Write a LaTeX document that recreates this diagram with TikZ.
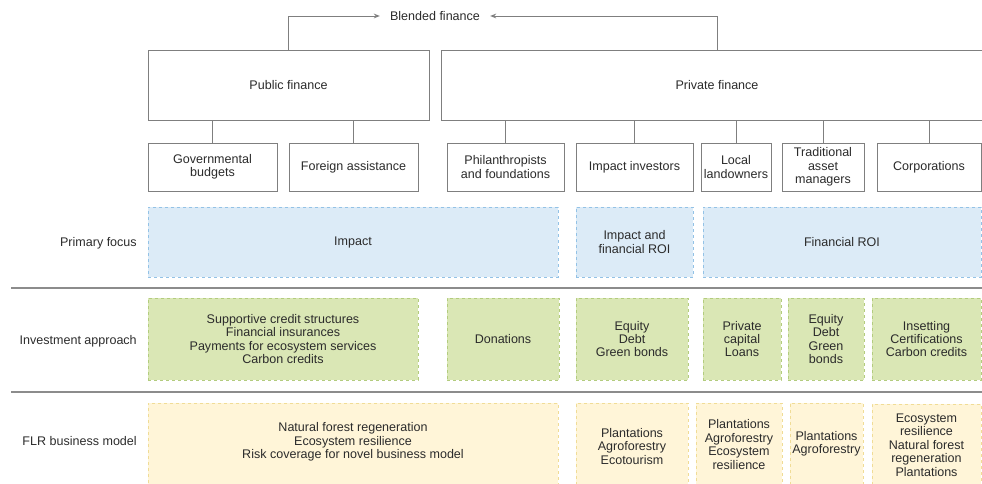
\documentclass[tikz,border=0pt]{standalone}
\usepackage{fontspec}
\setmainfont{Liberation Sans}
\usetikzlibrary{arrows.meta,calc}
\definecolor{txt}{HTML}{2B2B2B}
\definecolor{boxline}{HTML}{7F7F7F}
\definecolor{sepline}{HTML}{8C8C8C}
\definecolor{bluefill}{HTML}{DCEBF7}
\definecolor{blueline}{HTML}{93C2E6}
\definecolor{greenfill}{HTML}{DAE7B5}
\definecolor{greenline}{HTML}{B3CC7E}
\definecolor{yellowfill}{HTML}{FFF5D8}
\definecolor{yellowline}{HTML}{F0DC96}
\tikzset{
  base/.style={inner sep=0pt, align=center, text=txt, font=\fontsize{9.4}{10.1}\selectfont},
  whitebox/.style={base, draw=boxline, line width=0.75pt, fill=white},
  bluebox/.style={base, draw=blueline, fill=bluefill, line width=0.75pt, dash pattern=on 2.25pt off 2.25pt},
  greenbox/.style={base, draw=greenline, fill=greenfill, line width=0.75pt, dash pattern=on 2.25pt off 2.25pt},
  yellowbox/.style={base, draw=yellowline, fill=yellowfill, line width=0.75pt, dash pattern=on 2.25pt off 2.25pt},
  rowlabel/.style={base, anchor=east},
  link/.style={draw=boxline, line width=0.75pt},
  arr/.style={link, -{Stealth[length=4.5pt,width=3.6pt]}},
  sep/.style={draw=sepline, line width=1.5pt}
}
% \mybox{style}{name}{x1}{y1}{x2}{y2}{text}
\newcommand\mybox[7]{%
  \node[#1, minimum width={(#5-#3)*0.75pt}, minimum height={(#6-#4)*0.75pt}]
    (#2) at ({(#3+#5)/2},{(#4+#6)/2}) {#7};}
\begin{document}
\begin{tikzpicture}[x=0.75pt, y=-0.75pt]
\useasboundingbox (0,0) rectangle (982,483);
\clip (0,0) rectangle (982,483);

% top level
\mybox{whitebox}{pub}{148}{50}{429}{120}{Public finance}
\mybox{whitebox}{priv}{441}{50}{993}{120}{Private finance}
\node[base, inner xsep=7.5pt] (blend) at (435,16) {Blended finance};
\draw[arr] (pub.north) |- (blend.west);
\draw[arr] (priv.north) |- (blend.east);

% second level
\mybox{whitebox}{gov}{148}{143}{277}{191}{Governmental\\budgets}
\mybox{whitebox}{foreign}{289}{143}{418}{191}{Foreign assistance}
\mybox{whitebox}{phil}{447}{143}{564}{191}{Philanthropists\\and foundations}
\mybox{whitebox}{impinv}{576}{143}{693}{191}{Impact investors}
\mybox{whitebox}{local}{701}{143}{771}{191}{Local\\landowners}
\mybox{whitebox}{trad}{782}{143}{864}{191}{Traditional\\asset\\managers}
\mybox{whitebox}{corp}{877}{143}{981}{191}{Corporations}

\foreach \c in {gov,foreign}{\draw[link] (\c.north) -- (\c.north |- pub.south);}
\foreach \c in {phil,impinv,local,trad,corp}{\draw[link] (\c.north) -- (\c.north |- priv.south);}

% primary focus
\node[rowlabel] (lpf) at (137,243) {Primary focus};
\mybox{bluebox}{pf1}{148}{207}{558}{277}{Impact}
\mybox{bluebox}{pf2}{576}{207}{693}{277}{Impact and\\financial ROI}
\mybox{bluebox}{pf3}{703}{207}{981}{277}{Financial ROI}

% separators
\coordinate (s1a) at (11,288); \coordinate (s1b) at (984,288);
\coordinate (s2a) at (11,392); \coordinate (s2b) at (984,392);
\draw[sep] (s1a) -- (s1b);
\draw[sep] (s2a) -- (s2b);

% investment approach
\node[rowlabel] (lia) at (137,341) {Investment approach};
\mybox{greenbox}{ia1}{148}{298}{418}{380}{Supportive credit structures\\Financial insurances\\Payments for ecosystem services\\Carbon credits}
\mybox{greenbox}{ia2}{447}{298}{559}{380}{Donations}
\mybox{greenbox}{ia3}{576}{298}{688}{380}{Equity\\Debt\\Green bonds}
\mybox{greenbox}{ia4}{703}{298}{781}{380}{Private\\capital\\Loans}
\mybox{greenbox}{ia5}{788}{298}{864}{380}{Equity\\Debt\\Green\\bonds}
\mybox{greenbox}{ia6}{872}{298}{981}{380}{Insetting\\Certifications\\Carbon credits}

% FLR business model
\node[rowlabel] (lflr) at (137,441) {FLR business model};
\mybox{yellowbox}{fl1}{148}{403}{558}{490}{}
\node[base] (fl1t) at (353,442) {Natural forest regeneration\\Ecosystem resilience\\Risk coverage for novel business model};
\mybox{yellowbox}{fl2}{576}{403}{688}{490}{Plantations\\Agroforestry\\Ecotourism}
\mybox{yellowbox}{fl3}{696}{403}{782}{486}{Plantations\\Agroforestry\\Ecosystem\\resilience}
\mybox{yellowbox}{fl4}{790}{403}{863}{484}{Plantations\\Agroforestry}
\mybox{yellowbox}{fl5}{872}{404}{981}{486}{Ecosystem\\resilience\\Natural forest\\regeneration\\Plantations}
\end{tikzpicture}
\end{document}
